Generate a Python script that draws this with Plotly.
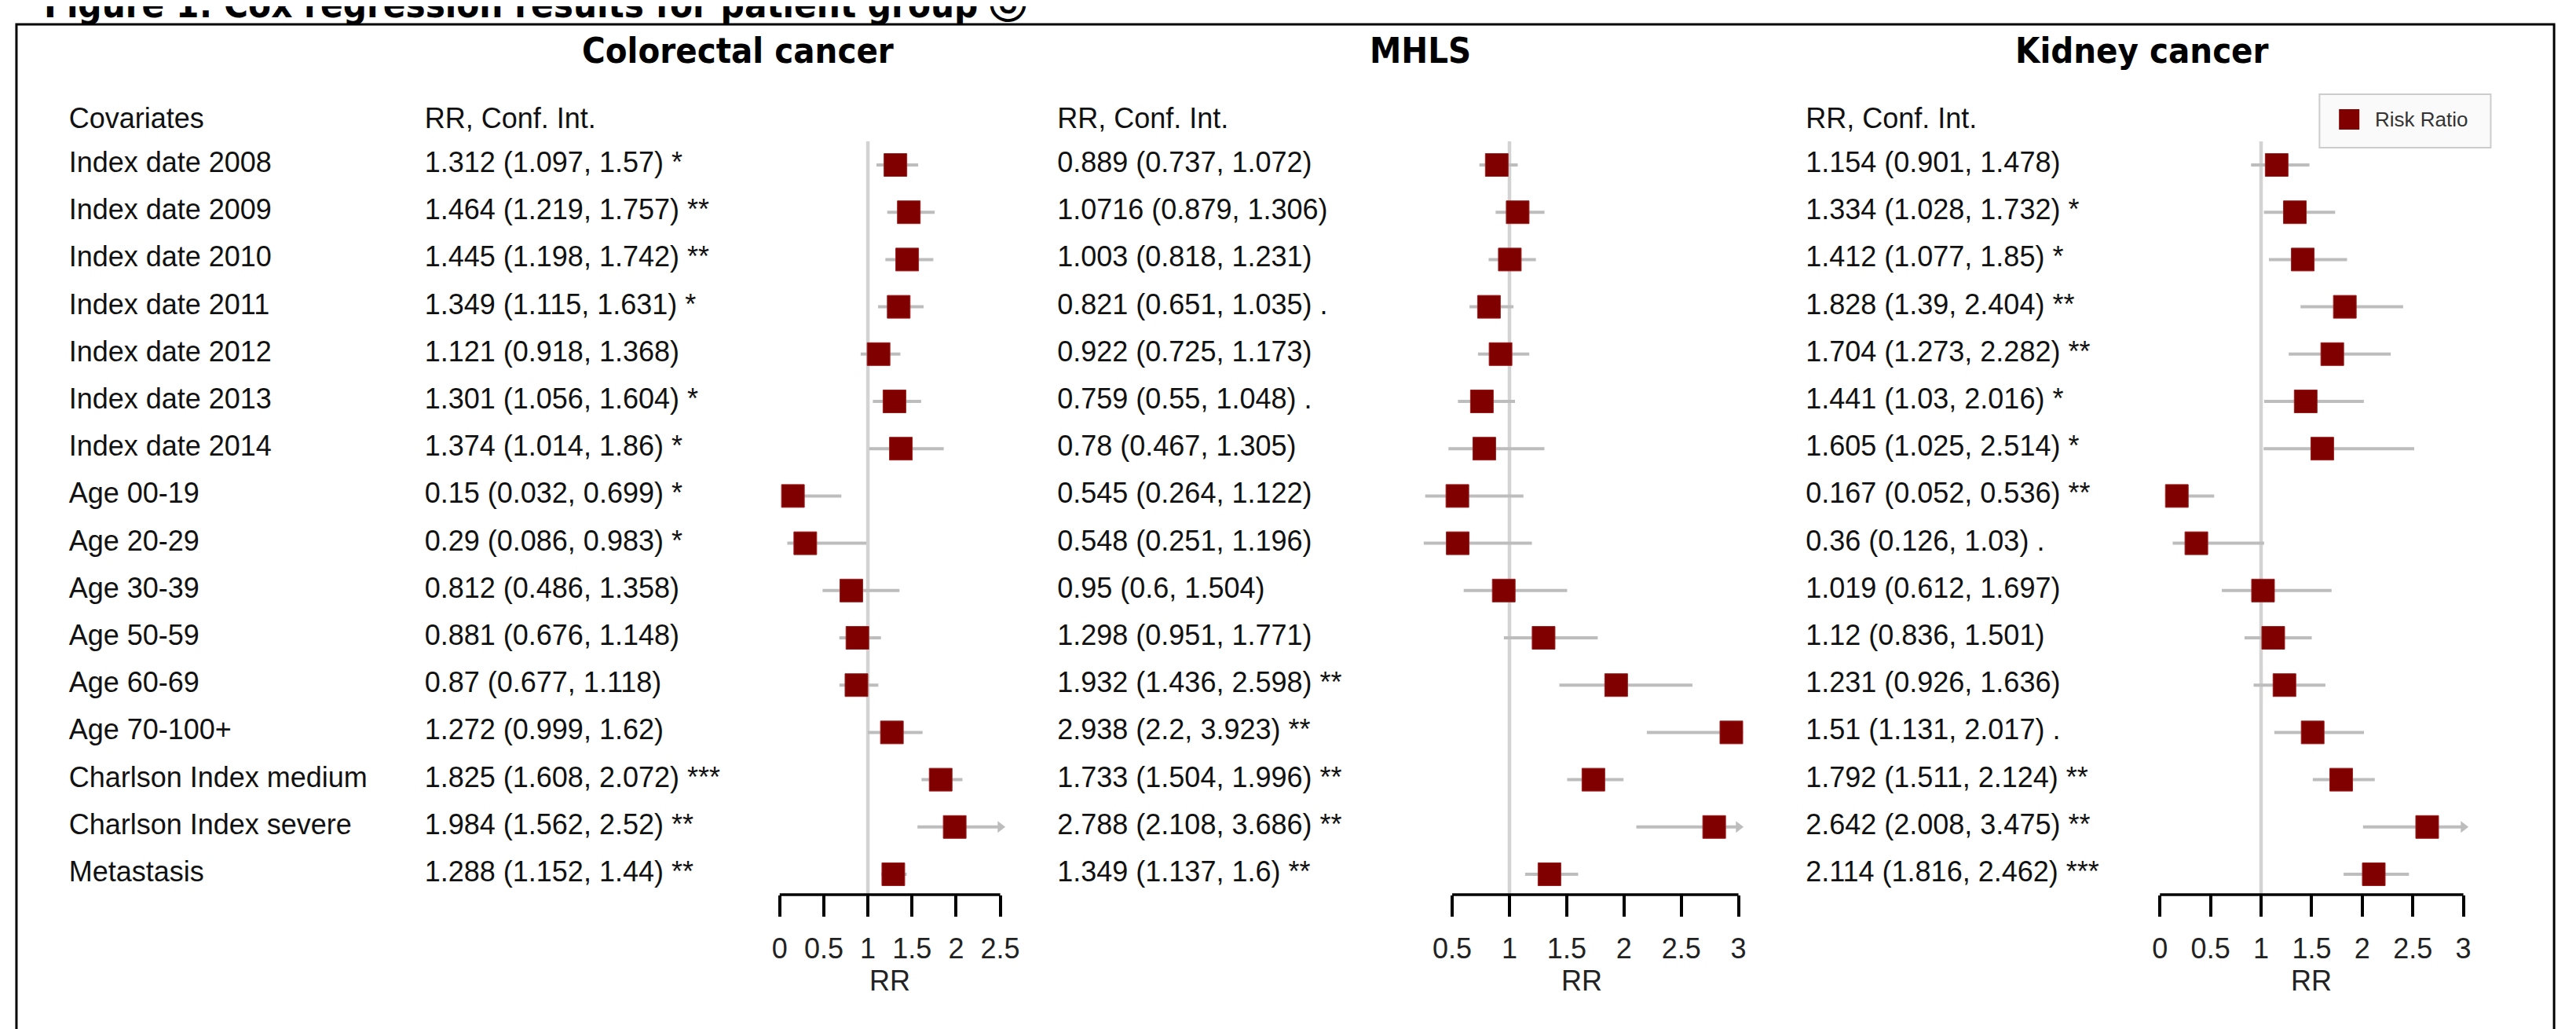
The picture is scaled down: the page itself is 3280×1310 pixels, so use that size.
import plotly.graph_objects as go

# ---------------- data ----------------
covariates = ["Index date 2008", "Index date 2009", "Index date 2010", "Index date 2011",
              "Index date 2012", "Index date 2013", "Index date 2014", "Age 00-19",
              "Age 20-29", "Age 30-39", "Age 50-59", "Age 60-69", "Age 70-100+",
              "Charlson Index medium", "Charlson Index severe", "Metastasis"]

crc_rr = [1.312, 1.464, 1.445, 1.349, 1.121, 1.301, 1.374, 0.15, 0.29, 0.812, 0.881, 0.87, 1.272, 1.825, 1.984, 1.288]
crc_lo = [1.097, 1.219, 1.198, 1.115, 0.918, 1.056, 1.014, 0.032, 0.086, 0.486, 0.676, 0.677, 0.999, 1.608, 1.562, 1.152]
crc_hi = [1.57, 1.757, 1.742, 1.631, 1.368, 1.604, 1.86, 0.699, 0.983, 1.358, 1.148, 1.118, 1.62, 2.072, 2.52, 1.44]
crc_sig = ["*", "**", "**", "*", "", "*", "*", "*", "*", "", "", "", "", "***", "**", "**"]

mhls_rr = [0.889, 1.0716, 1.003, 0.821, 0.922, 0.759, 0.78, 0.545, 0.548, 0.95, 1.298, 1.932, 2.938, 1.733, 2.788, 1.349]
mhls_lo = [0.737, 0.879, 0.818, 0.651, 0.725, 0.55, 0.467, 0.264, 0.251, 0.6, 0.951, 1.436, 2.2, 1.504, 2.108, 1.137]
mhls_hi = [1.072, 1.306, 1.231, 1.035, 1.173, 1.048, 1.305, 1.122, 1.196, 1.504, 1.771, 2.598, 3.923, 1.996, 3.686, 1.6]
mhls_sig = ["", "", "", ".", "", ".", "", "", "", "", "", "**", "**", "**", "**", "**"]

kid_rr = [1.154, 1.334, 1.412, 1.828, 1.704, 1.441, 1.605, 0.167, 0.36, 1.019, 1.12, 1.231, 1.51, 1.792, 2.642, 2.114]
kid_lo = [0.901, 1.028, 1.077, 1.39, 1.273, 1.03, 1.025, 0.052, 0.126, 0.612, 0.836, 0.926, 1.131, 1.511, 2.008, 1.816]
kid_hi = [1.478, 1.732, 1.85, 2.404, 2.282, 2.016, 2.514, 0.536, 1.03, 1.697, 1.501, 1.636, 2.017, 2.124, 3.475, 2.462]
kid_sig = ["", "*", "*", "**", "**", "*", "*", "**", ".", "", "", "", ".", "**", "**", "***"]

crc_ticks = [0, 0.5, 1, 1.5, 2, 2.5]
crc_ticklabels = ["0", "0.5", "1", "1.5", "2", "2.5"]
mhls_ticks = [0.5, 1, 1.5, 2, 2.5, 3]
mhls_ticklabels = ["0.5", "1", "1.5", "2", "2.5", "3"]
kid_ticks = [0, 0.5, 1, 1.5, 2, 2.5, 3]
kid_ticklabels = ["0", "0.5", "1", "1.5", "2", "2.5", "3"]

panel_titles = ["Colorectal cancer", "MHLS", "Kidney cancer"]
fig_title = "Figure 1: Cox regression results for patient group \u24d2"
col_header_cov = "Covariates"
col_header_rr = "RR, Conf. Int."
axis_title = "RR"
legend_label = "Risk Ratio"

# ---------------- layout constants ----------------
W, H = 3280, 1310
ROW0, ROWSTEP = 202.0, 60.2
AXIS_PX, TOP_PX = 1131.0, 100.0
REF_TOP_PX = 172.0
HEADER_PX = 146.0
TXT_FONT = "Liberation Sans, Arial, sans-serif"
TTL_FONT = "DejaVu Sans Condensed, DejaVu Sans, sans-serif"
MAROON = "#800000"
CI_GREY = "#bdbdbd"
REF_GREY = "#d3d3d3"


def px_to_row(p):
    return (p - ROW0) / ROWSTEP


n = len(covariates)
rows = list(range(n))
y_range = [px_to_row(AXIS_PX), px_to_row(TOP_PX)]
y_domain = [(H - AXIS_PX) / H, (H - TOP_PX) / H]


def fmt(v):
    return repr(v)


panels = [
    dict(rr=crc_rr, lo=crc_lo, hi=crc_hi, sig=crc_sig, ticks=crc_ticks, labels=crc_ticklabels,
         px=(989.0, 1271.0), rng=(-0.1, 2.6), clip=(0.0, 2.5), text_x=535, title_x=935, rr_x=None),
    dict(rr=mhls_rr, lo=mhls_lo, hi=mhls_hi, sig=mhls_sig, ticks=mhls_ticks, labels=mhls_ticklabels,
         px=(1849.0, 2215.0), rng=(0.2, 3.1), clip=(0.2, 3.0), text_x=1344, title_x=1808, rr_x=1.63),
    dict(rr=kid_rr, lo=kid_lo, hi=kid_hi, sig=kid_sig, ticks=kid_ticks, labels=kid_ticklabels,
         px=(2754.0, 3142.0), rng=(-0.1, 3.1), clip=(0.0, 3.0), text_x=2301, title_x=2731, rr_x=None),
]

fig = go.Figure()
shapes = []
annotations = []

# text columns (pixel x-axis 'x4')
fig.add_trace(go.Scatter(
    x=[80] * (n + 1), y=[px_to_row(HEADER_PX)] + rows, xaxis="x4", yaxis="y",
    mode="text", text=[col_header_cov] + covariates, textposition="middle right",
    textfont=dict(family=TXT_FONT, size=36, color="#111111"),
    cliponaxis=False, showlegend=False, hoverinfo="skip"))

for k, p in enumerate(panels):
    labels = [f"{fmt(r)} ({fmt(l)}, {fmt(h)})" + (f" {s}" if s else "")
              for r, l, h, s in zip(p["rr"], p["lo"], p["hi"], p["sig"])]
    fig.add_trace(go.Scatter(
        x=[p["text_x"]] * (n + 1), y=[px_to_row(HEADER_PX)] + rows, xaxis="x4", yaxis="y",
        mode="text", text=[col_header_rr] + labels, textposition="middle right",
        textfont=dict(family=TXT_FONT, size=36, color="#111111"),
        cliponaxis=False, showlegend=False, hoverinfo="skip"))

    xa = "x" if k == 0 else f"x{k + 1}"
    # reference line at RR = 1
    fig.add_trace(go.Scatter(
        x=[1, 1], y=[px_to_row(REF_TOP_PX), y_range[0]], xaxis=xa, yaxis="y",
        mode="lines", line=dict(color=REF_GREY, width=4.5),
        showlegend=False, hoverinfo="skip"))
    # confidence intervals
    cx, cy, ax_, ay_ = [], [], [], []
    c0, c1 = p["clip"]
    for i, (l, h) in enumerate(zip(p["lo"], p["hi"])):
        cx += [max(l, c0), min(h, c1), None]
        cy += [i, i, None]
        if h > c1:
            ax_.append(c1)
            ay_.append(i)
    fig.add_trace(go.Scatter(
        x=cx, y=cy, xaxis=xa, yaxis="y", mode="lines",
        line=dict(color=CI_GREY, width=4), showlegend=False, hoverinfo="skip"))
    if ax_:
        fig.add_trace(go.Scatter(
            x=ax_, y=ay_, xaxis=xa, yaxis="y", mode="markers",
            marker=dict(symbol="triangle-right", size=13, color=CI_GREY),
            cliponaxis=False, showlegend=False, hoverinfo="skip"))
    # point estimates
    fig.add_trace(go.Scatter(
        x=p["rr"], y=rows, xaxis=xa, yaxis="y", mode="markers",
        marker=dict(symbol="square", size=29, color=MAROON, line=dict(color="#9c2020", width=1)),
        cliponaxis=False, showlegend=False, name=legend_label))

    # axis geometry
    t0, t1 = p["ticks"][0], p["ticks"][-1]
    px0, px1 = p["px"]
    scale = (px1 - px0) / (t1 - t0)
    d0 = px0 + (p["rng"][0] - t0) * scale
    d1 = px0 + (p["rng"][1] - t0) * scale
    axis_key = "xaxis" if k == 0 else f"xaxis{k + 1}"
    fig.layout[axis_key] = dict(
        domain=[d0 / W, d1 / W], range=list(p["rng"]), anchor="y",
        showgrid=False, zeroline=False, showline=False,
        tickmode="array", tickvals=p["ticks"], ticktext=p["labels"],
        ticks="outside", ticklen=27, tickwidth=3.5, tickcolor="black",
        ticklabelstandoff=10,
        tickfont=dict(family=TXT_FONT, size=36, color="#222222"))
    shapes.append(dict(type="line", xref=xa, yref="y domain", x0=t0, x1=t1, y0=0, y1=0,
                       line=dict(color="black", width=3.5), layer="above"))
    rr_x = p["rr_x"] if p["rr_x"] is not None else (t0 + t1) / 2
    annotations.append(dict(text=axis_title, xref=xa, yref="paper", x=rr_x, y=1 - 1240 / H,
                            xanchor="center", yanchor="middle", showarrow=False,
                            font=dict(family=TXT_FONT, size=36, color="#222222")))
    annotations.append(dict(text=panel_titles[k], xref="paper", yref="paper",
                            x=p["title_x"] / W, y=1 - 57 / H, xanchor="center", yanchor="middle",
                            showarrow=False,
                            font=dict(family=TTL_FONT, size=45, color="black", weight="bold")))

# legend (kidney panel)
LEG_Y_PX = 144
shapes.append(dict(type="rect", xref="paper", yref="paper",
                   x0=2958 / W, x1=3177 / W, y0=1 - 180 / H, y1=1 - 112 / H,
                   line=dict(color="#cccccc", width=2), fillcolor="#fafafa", layer="below"))
fig.add_trace(go.Scatter(
    x=[2996], y=[px_to_row(LEG_Y_PX)], xaxis="x4", yaxis="y", mode="markers",
    marker=dict(symbol="square", size=26, color=MAROON),
    cliponaxis=False, showlegend=False, hoverinfo="skip"))
annotations.append(dict(text=legend_label, xref="paper", yref="paper", x=3027 / W, y=1 - LEG_Y_PX / H,
                        xanchor="left", yanchor="middle", showarrow=False,
                        font=dict(family=TXT_FONT, size=26, color="#333333")))

# figure title (cut at the top edge, as in the source image) and frame
annotations.append(dict(text=fig_title, xref="paper", yref="paper", x=46 / W, y=1 + 2 / H,
                        xanchor="left", yanchor="middle", showarrow=False,
                        font=dict(family=TTL_FONT, size=47, color="black", weight="bold")))
shapes.append(dict(type="rect", xref="paper", yref="paper", x0=13 / W, x1=3258 / W,
                   y0=-0.05, y1=1 - 23 / H, line=dict(color="black", width=3), layer="below"))

fig.update_layout(
    width=W, height=H, autosize=False,
    margin=dict(l=0, r=0, t=0, b=0, pad=0),
    paper_bgcolor="white", plot_bgcolor="rgba(0,0,0,0)",
    showlegend=False,
    xaxis4=dict(domain=[0, 1], range=[0, W], anchor="y", visible=False),
    yaxis=dict(domain=y_domain, range=y_range, visible=False, showgrid=False, zeroline=False),
    shapes=shapes, annotations=annotations,
)

fig.write_html("out.html")
